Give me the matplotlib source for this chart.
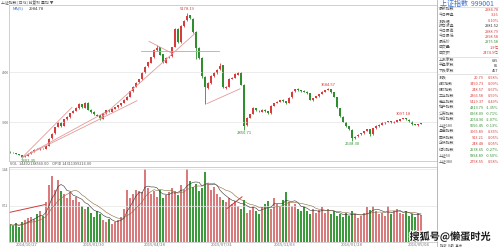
import numpy as np
import pandas as pd
import matplotlib.pyplot as plt
import matplotlib.patheffects as pe

plt.rcParams['font.family'] = ['Noto Sans CJK SC', 'DejaVu Sans']

# 上证指数 daily candles, sampled every 3 trading days
opens = [2420, 2400, 2392, 2372, 2348, 2312, 2335, 2385, 2425, 2480,
         2470, 2495, 2480, 2535, 2690, 2790, 2910, 2995, 2935, 3070,
         3100, 3190, 3235, 3285, 3365, 3290, 3385, 3255, 3215, 3150,
         3140, 3075, 3185, 3250, 3215, 3275, 3305, 3345, 3385, 3455,
         3505, 3625, 3705, 3800, 3855, 3995, 4110, 4180, 4295, 4430,
         4490, 4350, 4185, 4290, 4310, 4500, 4860, 4590, 4905, 5030,
         5130, 5060, 4800, 4470, 4270, 3910, 3690, 3790, 3930, 3985,
         4060, 4130, 3690, 3710, 3870, 3890, 3950, 3990, 3740, 2940,
         3090, 3170, 3285, 3230, 3215, 3255, 3225, 3180, 3335, 3390,
         3415, 3445, 3425, 3385, 3495, 3615, 3665, 3635, 3625, 3605,
         3575, 3445, 3485, 3515, 3565, 3605, 3645, 3665, 3595, 3505,
         3290, 3115, 3005, 2925, 2855, 2695, 2725, 2765, 2785, 2835,
         2865, 2765, 2885, 2925, 2955, 2985, 3005, 3025, 2995, 3015,
         3035, 3065, 3085, 3055, 3015, 2965, 2945, 2965]
highs = [2428, 2408, 2398, 2378, 2352, 2340, 2388, 2428, 2468, 2488,
         2498, 2502, 2540, 2690, 2795, 2915, 3005, 3010, 3068, 3125,
         3190, 3245, 3300, 3380, 3375, 3400, 3405, 3268, 3225, 3160,
         3150, 3190, 3250, 3265, 3280, 3310, 3350, 3390, 3460, 3520,
         3630, 3715, 3800, 3870, 4000, 4115, 4200, 4300, 4455, 4530,
         4500, 4365, 4295, 4320, 4500, 4870, 4880, 4925, 5035, 5178.19,
         5140, 5075, 4820, 4490, 4290, 3930, 3800, 3935, 4000, 4070,
         4184, 4140, 3720, 3875, 3900, 3975, 4006, 4000, 3760, 3100,
         3175, 3300, 3295, 3245, 3265, 3262, 3230, 3340, 3390, 3420,
         3450, 3456, 3430, 3500, 3620, 3670, 3678, 3645, 3635, 3615,
         3585, 3490, 3530, 3570, 3620, 3650, 3684.57, 3670, 3600, 3510,
         3295, 3125, 3015, 2935, 2860, 2730, 2770, 2800, 2840, 2870,
         2870, 2890, 2940, 2960, 3000, 3010, 3030, 3030, 3020, 3048,
         3070, 3097.18, 3090, 3060, 3020, 2970, 2968, 2998]
lows = [2398, 2385, 2368, 2345, 2302.35, 2306, 2328, 2376, 2418, 2466,
        2462, 2475, 2472, 2528, 2680, 2780, 2900, 2910, 2925, 3055,
        3090, 3180, 3225, 3275, 3290, 3280, 3240, 3195, 3150, 3120,
        3050, 3065, 3175, 3210, 3205, 3265, 3295, 3335, 3380, 3445,
        3500, 3610, 3695, 3790, 3845, 3985, 4100, 4170, 4285, 4420,
        4330, 4180, 4170, 4275, 4300, 4490, 4570, 4580, 4895, 5020,
        5060, 4780, 4250, 4260, 3880, 3373, 3660, 3770, 3910, 3970,
        4050, 3690, 3660, 3695, 3855, 3880, 3940, 3740, 2850.71, 2920,
        3080, 3160, 3230, 3200, 3205, 3210, 3170, 3175, 3325, 3380,
        3405, 3410, 3375, 3380, 3485, 3605, 3630, 3610, 3595, 3570,
        3440, 3435, 3475, 3505, 3555, 3595, 3635, 3590, 3500, 3290,
        3110, 3000, 2910, 2845, 2638.30, 2680, 2715, 2755, 2775, 2825,
        2733, 2760, 2875, 2915, 2945, 2975, 3000, 2990, 2990, 3005,
        3025, 3060, 3050, 3010, 2955, 2940, 2938, 2960]
closes = [2405, 2390, 2375, 2350, 2315, 2330, 2380, 2420, 2460, 2475,
          2490, 2485, 2530, 2680, 2780, 2900, 2990, 2930, 3060, 3110,
          3180, 3230, 3290, 3360, 3300, 3380, 3250, 3210, 3160, 3130,
          3080, 3180, 3240, 3220, 3270, 3300, 3340, 3380, 3450, 3510,
          3620, 3700, 3790, 3860, 3990, 4100, 4190, 4290, 4440, 4480,
          4340, 4190, 4280, 4300, 4490, 4850, 4600, 4910, 5020, 5120,
          5070, 4790, 4480, 4280, 3920, 3700, 3780, 3920, 3990, 4050,
          4120, 3700, 3700, 3860, 3880, 3960, 3980, 3750, 2930, 3080,
          3160, 3280, 3240, 3220, 3250, 3220, 3190, 3330, 3380, 3410,
          3440, 3420, 3390, 3490, 3610, 3660, 3640, 3620, 3610, 3580,
          3450, 3480, 3520, 3560, 3610, 3640, 3660, 3600, 3510, 3300,
          3120, 3010, 2920, 2860, 2700, 2720, 2760, 2790, 2830, 2860,
          2770, 2880, 2930, 2950, 2990, 3000, 3020, 3000, 3010, 3040,
          3060, 3080, 3060, 3020, 2960, 2950, 2960, 2990]
volumes = [24, 22, 26, 20, 28, 30, 33, 35, 32, 38,
           42, 36, 55, 78, 90, 72, 85, 70, 66, 60,
           68, 58, 62, 55, 50, 45, 48, 40, 35, 42,
           38, 30, 27, 32, 25, 28, 30, 35, 45, 72,
           60, 66, 72, 70, 68, 100, 74, 66, 70, 62,
           72, 60, 64, 68, 74, 70, 65, 78, 72, 100,
           84, 76, 80, 70, 74, 96, 80, 72, 76, 66,
           62, 58, 55, 60, 52, 56, 50, 46, 57, 40,
           44, 50, 42, 38, 48, 52, 56, 46, 60, 52,
           48, 58, 68, 55, 50, 52, 46, 42, 50, 42,
           38, 46, 40, 44, 48, 40, 46, 38, 42, 36,
           38, 34, 40, 36, 42, 38, 33, 36, 40, 48,
           44, 50, 42, 38, 40, 36, 50, 38, 42, 46,
           40, 38, 42, 36, 38, 34, 40, 37]

date_labels = ["2014/10/27", "2015/01/30", "2015/04/28", "2015/07/31",
               "2015/11/03", "2016/01/28", "2016/05/04"]
date_pos = [17, 84, 145, 212, 275, 342, 409]

# marked highs / lows (candle index, 'h' or 'l')
marks = [(4, 'l'), (59, 'h'), (78, 'l'), (106, 'h'), (114, 'l'), (131, 'h')]

# hand drawn trend lines: (day, price) pairs
trend_lines = [((12, 2302), (127, 3431)),
               ((12, 2302), (95, 3200)),
               ((12, 2302), (62, 3300)),
               ((90, 3078), (185, 4765)),
               ((139, 4608), (162, 4373)),
               ((131, 4418), (209, 4418)),
               ((197, 3373), (230, 3667))]
vol_lines = [((-1, 40.5), (35, 51.4)), ((217, 46), (232, 62))]

# side panel
top_labels = ["最新指数", "今日开盘", "涨跌幅", "昨日收盘", "今日最高",
              "今日最低", "最低价", "成交量", "成交额"]
top_values = ["2984.78", "3.26", "0.10%", "2981.52", "2988.79",
              "2998.58", "2975.58", "1.9亿", "2474.9亿"]
top_colors = ["r", "r", "r", "k", "r", "r", "g", "r", "r"]
mid_labels = ["上涨家数", "平盘家数", "下跌家数"]
mid_values = ["685", "85", "457"]
idx_labels = ["涨跌", "A股指数", "B股指数", "工业指数", "商业指数",
              "地产指数", "公用指数", "综合指数", "上证180", "基金指数",
              "国债指数", "企债指数", "红利指数", "上证50", "上证380"]
idx_values = [20.79, 3450.73, 248.57, 2366.58, 5429.37, 4313.79, 6268.09,
              2054.90, 9656.45, 3065.89, 913.21, 248.48, 2538.65, 5894.89,
              2758.55]
idx_change = [0.58, 0.09, 0.67, 0.59, 0.49, -1.35, -0.71, -2.07, -0.13,
              0.35, 0.05, 0.05, -0.27, -0.50, 0.58]

RED = '#d83c3c'
GREEN = '#2f8f2f'
LINE = '#e39a9a'

o = np.array(opens, dtype=float)
h = np.array(highs, dtype=float)
l = np.array(lows, dtype=float)
c = np.array(closes, dtype=float)
v = np.array(volumes, dtype=float)
days = np.arange(len(c)) * 3
up = c >= o

W, H = 499, 247
def box(left, top, right, bottom):
    return [left / W, 1 - bottom / H, (right - left) / W, (bottom - top) / H]

fig = plt.figure(figsize=(W / 100, H / 100), dpi=100)
fig.patch.set_facecolor('white')
ax = fig.add_axes(box(9, 5, 437, 161))
axv = fig.add_axes(box(9, 167, 437, 242), sharex=ax)
side = fig.add_axes(box(437, 0, 499, 247))

# candles
ccol = np.where(up, RED, GREEN)
ax.vlines(days, l, h, colors=ccol, lw=0.6)
ax.bar(days, np.maximum(np.abs(c - o), 4), bottom=np.minimum(o, c),
       width=2.4, color=ccol, linewidth=0)

for x0, x1 in trend_lines:
    ax.plot([x0[0], x1[0]], [x0[1], x1[1]], color=LINE, lw=0.6)

for k, kind in marks:
    if kind == 'h':
        ax.text(days[k], h[k] + 25, f"{h[k]:.2f}", color=RED, fontsize=3,
                ha='center', va='bottom')
    else:
        ax.text(days[k] + (6 if k < 10 else 0), l[k] - 25, f"{l[k]:.2f}",
                color=GREEN, fontsize=3, ha='center', va='top')

ax.set_xlim(-1, 427)
ax.set_ylim(2235, 5330)
ax.set_yticks([3000, 4000])
ax.set_yticklabels(['3000', '4000'])
ax.yaxis.grid(True, color='#e4e4e4', lw=0.5)
ax.tick_params(axis='y', length=0, labelsize=2.4, labelcolor='#666666', pad=0.3)
ax.tick_params(axis='x', bottom=False, labelbottom=False)
ax.text(3, 5300, "MA(5)", color='#3a6fc4', fontsize=3, va='top')
ax.text(19, 5300, "2984.78", color='#333333', fontsize=3, va='top')

# volume
vcol = np.where(up, '#d97a7c', '#3c9a3c')
axv.bar(days, v, width=2.9, color=vcol, linewidth=0)
ma5 = pd.Series(v).rolling(5, min_periods=1).mean()
ma10 = pd.Series(v).rolling(10, min_periods=1).mean()
axv.plot(days, ma5, color='#333333', lw=0.4)
axv.plot(days, ma10, color='#8a6a3a', lw=0.4)
for x0, x1 in vol_lines:
    axv.plot([x0[0], x1[0]], [x0[1], x1[1]], color='#d03a3a', lw=0.7)
axv.set_ylim(0, 103)
axv.set_yticks([50, 100])
axv.set_yticklabels(['0.72', '1.44'])
axv.yaxis.grid(True, color='#e4e4e4', lw=0.5)
axv.tick_params(axis='y', length=0, labelsize=2.4, labelcolor='#666666', pad=0.3)
axv.set_xticks(date_pos)
axv.set_xticklabels(date_labels)
axv.tick_params(axis='x', length=0, labelsize=3, labelcolor='#777777', pad=0.5)

for a in (ax, axv):
    a.set_facecolor('white')
    for s in a.spines.values():
        s.set_color('#c8c8c8')
        s.set_linewidth(0.6)

# header strips
fig.text(1 / W, 1 - 2.5 / H, "上证指数 [日线] 前复权 叠加 ▼", fontsize=2.8,
         color='#555555', va='center')
fig.text(10 / W, 1 - 164 / H, "VOL  14402138560.00    OPID 14311399216.00",
         fontsize=2.8, color='#555555', va='center')

# side panel
side.set_xlim(0, 62)
side.set_ylim(247, 0)
side.axis('off')
side.axvline(0.3, color='#b4b4b4', lw=0.6)
side.text(3, 3.5, "上证指数  999001", color='#3d6fd1', fontsize=5, va='center')
side.axhline(7, color='#d0d0d0', lw=0.4)
colmap = {'r': RED, 'g': GREEN, 'k': '#333333'}
for i, (lab, val, col) in enumerate(zip(top_labels, top_values, top_colors)):
    y = 10 + i * 5.4
    side.text(2, y, lab, fontsize=2.8, color='#555555', va='center')
    side.text(61.5, y, val, fontsize=2.8, color=colmap[col], va='center', ha='right')
side.axhline(57, color='#d0d0d0', lw=0.4)
for i, (lab, val) in enumerate(zip(mid_labels, mid_values)):
    y = 60.5 + i * 5.4
    side.text(2, y, lab, fontsize=2.8, color='#555555', va='center')
    side.text(61.5, y, val, fontsize=2.8, color='#333333', va='center', ha='right')
side.axhline(74, color='#d0d0d0', lw=0.4)
for i, (lab, val, chg) in enumerate(zip(idx_labels, idx_values, idx_change)):
    y = 77.5 + i * 6.0
    col = RED if chg >= 0 else GREEN
    side.text(2, y, lab, fontsize=2.8, color='#555555', va='center')
    side.text(47, y, f"{val:.2f}", fontsize=2.8, color=col, va='center', ha='right')
    side.text(61.5, y, f"{chg:.2f}%", fontsize=2.8, color=col, va='center', ha='right')
side.text(3, 245.3, "指数  B股  基金", fontsize=2.4, color='#555555', va='center')

# watermark
fig.text(450 / W, 1 - 236.5 / H, "搜狐号@懒蛋时光", fontsize=7.3, color='#1a1a1a',
         ha='center', va='center', fontweight='bold',
         path_effects=[pe.withStroke(linewidth=1.5, foreground='white')])

fig.savefig('out.png', dpi=100)
